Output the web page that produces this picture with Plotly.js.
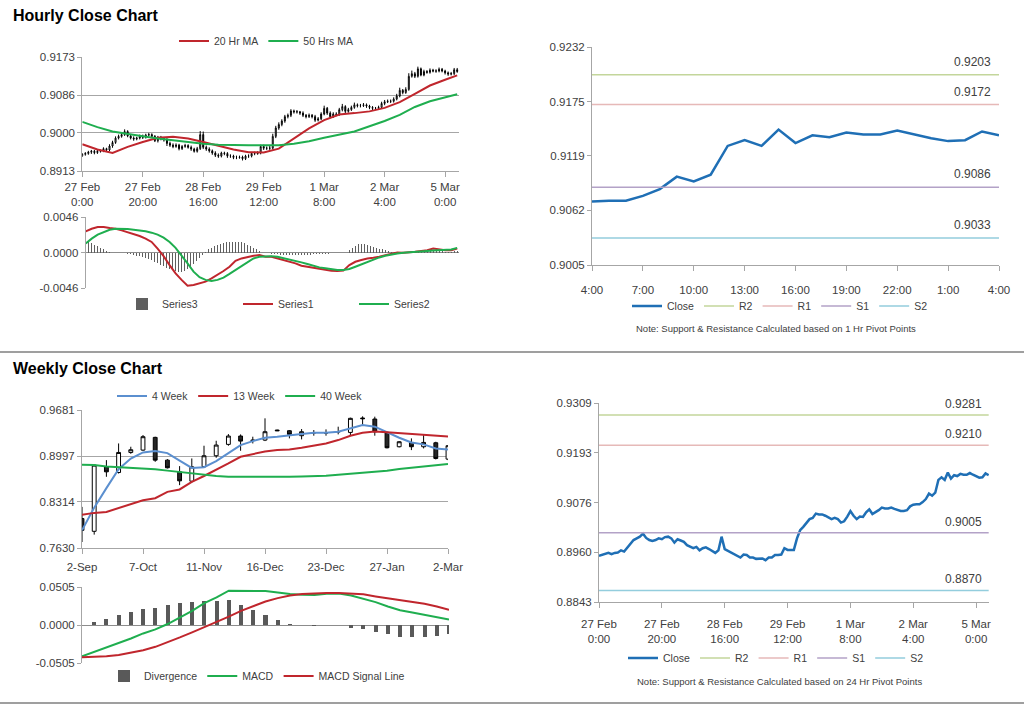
<!DOCTYPE html>
<html><head><meta charset="utf-8">
<script src="https://cdn.plot.ly/plotly-3.0.1.min.js"></script>
<style>html,body{margin:0;padding:0;background:#fff}#chart{width:1024px;height:706px}</style>
</head><body><div id="chart"></div>
<script>
// ---------- Hourly data (27 Feb 0:00 .. 5 Mar 4:00) ----------
const hourTickLabels = ['27 Feb<br>0:00','27 Feb<br>20:00','28 Feb<br>16:00','29 Feb<br>12:00','1 Mar<br>8:00','2 Mar<br>4:00','5 Mar<br>0:00'];
const hourTickIdx = [0,20,40,60,80,100,120];

const hOpen = [
0.8948,0.8951,0.8953,0.8956,0.8958,0.8955,0.8958,0.8959,0.8964,0.8961,
0.8970,0.8978,0.8988,0.8992,0.8996,0.9003,0.8993,0.8988,0.8986,0.8988,
0.8992,0.8990,0.8995,0.8996,0.8992,0.8982,0.8990,0.8987,0.8984,0.8976,
0.8972,0.8969,0.8972,0.8964,0.8969,0.8971,0.8967,0.8963,0.8958,0.8964,
0.8996,0.8967,0.8963,0.8959,0.8954,0.8949,0.8947,0.8954,0.8953,0.8947,
0.8947,0.8944,0.8944,0.8945,0.8941,0.8947,0.8947,0.8953,0.8953,0.8954,
0.8969,0.8965,0.8965,0.8965,0.8992,0.9011,0.9019,0.9027,0.9037,0.9040,
0.9050,0.9048,0.9048,0.9045,0.9040,0.9037,0.9040,0.9037,0.9029,0.9032,
0.9043,0.9056,0.9045,0.9037,0.9043,0.9042,0.9053,0.9060,0.9049,0.9053,
0.9058,0.9064,0.9062,0.9062,0.9064,0.9061,0.9058,0.9056,0.9056,0.9058,
0.9067,0.9071,0.9072,0.9072,0.9077,0.9084,0.9097,0.9092,0.9099,0.9129,
0.9135,0.9129,0.9146,0.9132,0.9140,0.9138,0.9143,0.9141,0.9141,0.9145,
0.9141,0.9137,0.9134,0.9135,0.9144];
const hHigh = [
0.8954,0.8956,0.8959,0.8961,0.8961,0.8961,0.8962,0.8967,0.8966,0.8974,
0.8982,0.8992,0.8996,0.9000,0.9008,0.9006,0.8997,0.8992,0.8991,0.8996,
0.8996,0.8998,0.9000,0.8999,0.8995,0.8993,0.8993,0.8990,0.8988,0.8980,
0.8976,0.8976,0.8975,0.8972,0.8975,0.8974,0.8971,0.8966,0.8968,0.9004,
0.9003,0.8971,0.8967,0.8962,0.8958,0.8953,0.8957,0.8957,0.8956,0.8951,
0.8950,0.8948,0.8948,0.8948,0.8950,0.8951,0.8956,0.8957,0.8958,0.8973,
0.8973,0.8969,0.8970,0.8998,0.9016,0.9024,0.9031,0.9041,0.9044,0.9054,
0.9053,0.9052,0.9050,0.9049,0.9043,0.9044,0.9043,0.9041,0.9036,0.9047,
0.9062,0.9059,0.9049,0.9047,0.9047,0.9057,0.9066,0.9063,0.9057,0.9062,
0.9069,0.9067,0.9066,0.9068,0.9067,0.9064,0.9061,0.9059,0.9062,0.9071,
0.9075,0.9076,0.9076,0.9081,0.9089,0.9103,0.9100,0.9104,0.9136,0.9142,
0.9139,0.9151,0.9149,0.9144,0.9143,0.9147,0.9146,0.9145,0.9149,0.9148,
0.9144,0.9140,0.9139,0.9148,0.9148];
const hLow = [
0.8945,0.8948,0.8950,0.8952,0.8951,0.8952,0.8955,0.8956,0.8957,0.8958,
0.8966,0.8975,0.8985,0.8989,0.8993,0.8990,0.8985,0.8982,0.8983,0.8985,
0.8986,0.8987,0.8992,0.8989,0.8979,0.8978,0.8983,0.8980,0.8970,0.8968,
0.8965,0.8966,0.8960,0.8961,0.8966,0.8964,0.8959,0.8955,0.8955,0.8961,
0.8963,0.8959,0.8955,0.8950,0.8945,0.8943,0.8944,0.8949,0.8943,0.8943,
0.8940,0.8940,0.8941,0.8937,0.8938,0.8943,0.8944,0.8949,0.8950,0.8951,
0.8961,0.8961,0.8961,0.8962,0.8988,0.9007,0.9015,0.9023,0.9033,0.9036,
0.9044,0.9044,0.9041,0.9036,0.9033,0.9034,0.9033,0.9025,0.9026,0.9029,
0.9040,0.9041,0.9033,0.9034,0.9038,0.9039,0.9049,0.9045,0.9046,0.9050,
0.9055,0.9058,0.9058,0.9059,0.9057,0.9054,0.9052,0.9052,0.9053,0.9055,
0.9063,0.9068,0.9068,0.9069,0.9074,0.9081,0.9088,0.9089,0.9096,0.9126,
0.9125,0.9126,0.9129,0.9129,0.9135,0.9135,0.9138,0.9137,0.9138,0.9138,
0.9133,0.9130,0.9131,0.9132,0.9137];
const hClose = [
0.8951,0.8953,0.8956,0.8958,0.8955,0.8958,0.8959,0.8964,0.8961,0.8970,
0.8978,0.8988,0.8992,0.8996,0.9003,0.8993,0.8988,0.8986,0.8988,0.8992,
0.8990,0.8995,0.8996,0.8992,0.8982,0.8990,0.8987,0.8984,0.8976,0.8972,
0.8969,0.8972,0.8964,0.8969,0.8971,0.8967,0.8963,0.8958,0.8964,0.8996,
0.8967,0.8963,0.8959,0.8954,0.8949,0.8947,0.8954,0.8953,0.8947,0.8947,
0.8944,0.8944,0.8945,0.8941,0.8947,0.8947,0.8953,0.8953,0.8954,0.8969,
0.8965,0.8965,0.8965,0.8992,0.9011,0.9019,0.9027,0.9037,0.9040,0.9050,
0.9048,0.9048,0.9045,0.9040,0.9037,0.9040,0.9037,0.9029,0.9032,0.9043,
0.9056,0.9045,0.9037,0.9043,0.9042,0.9053,0.9060,0.9049,0.9053,0.9058,
0.9064,0.9062,0.9062,0.9064,0.9061,0.9058,0.9056,0.9056,0.9058,0.9067,
0.9071,0.9072,0.9072,0.9077,0.9084,0.9097,0.9092,0.9099,0.9129,0.9135,
0.9129,0.9146,0.9132,0.9140,0.9138,0.9143,0.9141,0.9141,0.9145,0.9141,
0.9137,0.9134,0.9135,0.9144,0.9140];

// moving averages read every 5 hours
const maIdx = [0,5,10,15,20,25,30,35,40,45,50,55,60,65,70,75,80,85,90,95,100,105,110,115,120,124];
const ma20 = [0.8974,0.8962,0.8954,0.8968,0.8979,0.8989,0.8991,0.8987,0.8979,0.8970,0.8962,0.8956,0.8955,0.8964,0.8987,0.9010,0.9029,0.9042,0.9045,0.9049,0.9057,0.9070,0.9089,0.9108,0.9121,0.9131];
const ma50 = [0.9025,0.9013,0.9003,0.8997,0.8992,0.8987,0.8983,0.8979,0.8975,0.8973,0.8972,0.8972,0.8972,0.8972,0.8975,0.8981,0.8989,0.8996,0.9003,0.9015,0.9027,0.9041,0.9059,0.9072,0.9080,0.9088];

// hourly MACD (lines read every 2 hours, histogram every hour)
const series1 = [0.00274,0.00308,0.00330,0.00330,0.00317,0.00308,0.00287,0.00265,0.00244,0.00214,
0.00180,0.00137,0.00051,-0.00047,-0.00163,-0.00270,-0.00355,-0.00430,-0.00420,-0.00398,
-0.00377,-0.00334,-0.00291,-0.00240,-0.00184,-0.00107,-0.00077,-0.00056,-0.00043,-0.00034,
-0.00056,-0.00056,-0.00077,-0.00098,-0.00120,-0.00141,-0.00171,-0.00184,-0.00205,-0.00214,
-0.00227,-0.00235,-0.00240,-0.00235,-0.00163,-0.00120,-0.00098,-0.00077,-0.00068,-0.00056,
-0.00034,-0.00013,0.00000,-0.00004,0.00000,0.00009,0.00021,0.00030,0.00051,0.00039,
0.00030,0.00030,0.00051];
const series2 = [0.00116,0.00180,0.00231,0.00265,0.00295,0.00308,0.00308,0.00304,0.00295,0.00287,
0.00274,0.00257,0.00231,0.00193,0.00137,0.00060,-0.00034,-0.00141,-0.00248,-0.00321,
-0.00355,-0.00368,-0.00355,-0.00325,-0.00278,-0.00227,-0.00171,-0.00120,-0.00077,-0.00056,
-0.00047,-0.00047,-0.00056,-0.00073,-0.00086,-0.00107,-0.00128,-0.00150,-0.00175,-0.00193,
-0.00205,-0.00218,-0.00227,-0.00227,-0.00214,-0.00184,-0.00154,-0.00120,-0.00090,-0.00064,
-0.00043,-0.00026,-0.00013,-0.00004,0.00004,0.00009,0.00017,0.00021,0.00026,0.00030,
0.00030,0.00039,0.00060];
const series3 = [
0.0017,0.0014,0.0012,0.0010,0.0008,0.0006,0.0004,0.0002,0.0001,0.0000,
0.0000,-0.0001,-0.0001,-0.0001,-0.0002,-0.0002,-0.0003,-0.0004,-0.0005,-0.0006,
-0.0007,-0.0008,-0.0010,-0.0012,-0.0014,-0.0016,-0.0018,-0.0020,-0.0021,-0.0022,
-0.0024,-0.0025,-0.0025,-0.0024,-0.0022,-0.0019,-0.0015,-0.0011,-0.0007,-0.0003,
0.0001,0.0004,0.0006,0.0008,0.0010,0.0011,0.0012,0.0013,0.0013,0.0014,
0.0014,0.0013,0.0013,0.0012,0.0010,0.0008,0.0006,0.0004,0.0002,0.0000,
-0.0001,-0.0001,-0.0002,-0.0002,-0.0002,-0.0003,-0.0003,-0.0003,-0.0003,-0.0003,
-0.0003,-0.0003,-0.0003,-0.0003,-0.0003,-0.0003,-0.0002,-0.0002,-0.0002,-0.0002,
-0.0002,-0.0002,-0.0001,-0.0001,-0.0001,-0.0001,-0.0001,0.0000,0.0003,0.0006,
0.0009,0.0011,0.0011,0.0011,0.0010,0.0008,0.0007,0.0006,0.0005,0.0004,
0.0003,0.0002,0.0001,0.0001,0.0001,0.0001,0.0001,0.0001,0.0001,0.0001,
0.0001,0.0002,0.0002,0.0002,0.0002,0.0002,0.0003,0.0002,0.0002,0.0002,
0.0001,0.0001,0.0001,0.0002,0.0002];

// last 25 hours chart
const lastDayLabels = ['4:00','7:00','10:00','13:00','16:00','19:00','22:00','1:00','4:00'];
const pivotNames = ['R2','R1','S1','S2'];
const pivotColors = ['#c3d69b','#e6b9b8','#b3a2c7','#93cddd'];
const hourPivots = [0.9203,0.9172,0.9086,0.9033];
const dayPivots = [0.9281,0.9210,0.9005,0.8870];

// ---------- Weekly data ----------
const weekTickLabels = ['2-Sep','7-Oct','11-Nov','16-Dec','23-Dec','27-Jan','2-Mar'];
const weekTickIdx = [0,5,10,15,20,25,30];
const wOpen = [0.8067,0.7878,0.8837,0.8752,0.9050,0.9085,0.9274,0.8936,0.8762,0.8623,0.8837,0.9001,0.9170,0.9294,0.9234,0.9234,0.9383,0.9373,0.9299,0.9343,0.9345,0.9355,0.9348,0.9562,0.9547,0.9348,0.9135,0.9199,0.9135,0.9194,0.8951];
const wHigh = [0.8241,0.8872,0.8936,0.9184,0.9135,0.9309,0.9284,0.8951,0.8847,0.8961,0.9150,0.9224,0.9323,0.9318,0.9284,0.9557,0.9388,0.9383,0.9398,0.9383,0.9393,0.9433,0.9567,0.9587,0.9582,0.9358,0.9219,0.9259,0.9309,0.9209,0.9160];
const wLow = [0.7719,0.7829,0.8688,0.8737,0.9030,0.9075,0.8911,0.8812,0.8564,0.8603,0.8822,0.8971,0.9150,0.9075,0.9184,0.9219,0.9368,0.9259,0.9244,0.9299,0.9299,0.9319,0.9309,0.9453,0.9299,0.9110,0.9125,0.9085,0.9110,0.8946,0.8936];
const wClose = [0.7893,0.8862,0.8762,0.9050,0.9090,0.9284,0.8936,0.8822,0.8628,0.8837,0.9001,0.9160,0.9294,0.9219,0.9229,0.9358,0.9373,0.9319,0.9358,0.9343,0.9340,0.9360,0.9557,0.9552,0.9358,0.9120,0.9209,0.9135,0.9199,0.8961,0.9150];
const week4 = [0.7893,0.8230,0.8520,0.8800,0.8960,0.9050,0.9070,0.9040,0.8930,0.8820,0.8830,0.8920,0.9040,0.9160,0.9219,0.9269,0.9284,0.9299,0.9323,0.9343,0.9343,0.9358,0.9408,0.9457,0.9433,0.9348,0.9269,0.9199,0.9170,0.9110,0.9095];
const week13 = [0.8125,0.8152,0.8166,0.8226,0.8281,0.8340,0.8370,0.8464,0.8500,0.8613,0.8700,0.8787,0.8886,0.8986,0.9025,0.9065,0.9085,0.9095,0.9120,0.9150,0.9184,0.9234,0.9299,0.9343,0.9360,0.9350,0.9338,0.9328,0.9318,0.9304,0.9289];
const week40 = [0.8868,0.8862,0.8840,0.8830,0.8825,0.8818,0.8800,0.8780,0.8760,0.8735,0.8713,0.8700,0.8690,0.8688,0.8688,0.8688,0.8688,0.8690,0.8693,0.8697,0.8703,0.8718,0.8733,0.8750,0.8765,0.8777,0.8805,0.8825,0.8842,0.8862,0.8880];
const wDiv = [0,0.0045,0.0085,0.0130,0.0174,0.0215,0.0232,0.0260,0.0290,0.0304,0.0317,0.0322,0.0335,0.0264,0.0201,0.0130,0.0072,0.0013,0.0002,-0.0010,-0.0003,-0.0002,-0.0035,-0.0054,-0.0098,-0.0125,-0.0156,-0.0156,-0.0156,-0.0143,-0.0125];
const wMacd = [-0.0416,-0.0358,-0.0300,-0.0237,-0.0179,-0.0112,-0.0058,0.0013,0.0098,0.0188,0.0290,0.0366,0.0456,0.0456,0.0456,0.0451,0.0433,0.0411,0.0402,0.0398,0.0416,0.0420,0.0393,0.0353,0.0304,0.0246,0.0197,0.0165,0.0134,0.0103,0.0072];
const wSignal = [-0.0429,-0.0425,-0.0416,-0.0398,-0.0367,-0.0335,-0.0290,-0.0232,-0.0165,-0.0098,-0.0031,0.0036,0.0112,0.0188,0.0255,0.0313,0.0357,0.0393,0.0411,0.0420,0.0425,0.0425,0.0416,0.0407,0.0380,0.0357,0.0335,0.0308,0.0282,0.0246,0.0201];

// ---------- build ----------
const W = 1024, H = 706;
const px = x => x / W, py = y => 1 - y / H;
const FONT = 'Liberation Sans, Arial, sans-serif';
const TXT = '#404040';
const RED = '#c0262d', GREEN = '#1fae4f', BLUE = '#1f6fb5', LBLUE = '#5b8fcf', GREY = '#595959';
const AX = '#a6a6a6';

const hIdx = hClose.map((_, i) => i);
const macdIdx = series1.map((_, k) => 2 * k);
const lastDay = hClose.slice(hClose.length - 25);
const ldIdx = lastDay.map((_, i) => i);
const wIdx = wClose.map((_, i) => i);

const traces = [];
// A: hourly candles
traces.push({type:'candlestick', x:hIdx, open:hOpen, high:hHigh, low:hLow, close:hClose, xaxis:'x', yaxis:'y',
  increasing:{line:{color:'#000',width:1}, fillcolor:'#ffffff'}, decreasing:{line:{color:'#000',width:1}, fillcolor:'#000000'},
  whiskerwidth:0, showlegend:false, hoverinfo:'skip'});
traces.push({type:'scatter', mode:'lines', x:maIdx, y:ma20, name:'20 Hr MA', line:{color:RED,width:2}, xaxis:'x', yaxis:'y', legend:'legend'});
traces.push({type:'scatter', mode:'lines', x:maIdx, y:ma50, name:'50 Hrs MA', line:{color:GREEN,width:2}, xaxis:'x', yaxis:'y', legend:'legend'});
// B: hourly MACD
traces.push({type:'bar', x:hIdx, y:series3, name:'Series3', marker:{color:'#5f5f5f'}, width:0.35, xaxis:'x2', yaxis:'y2', legend:'legend2'});
traces.push({type:'scatter', mode:'lines', x:macdIdx, y:series1, name:'Series1', line:{color:RED,width:2}, xaxis:'x2', yaxis:'y2', legend:'legend2'});
traces.push({type:'scatter', mode:'lines', x:macdIdx, y:series2, name:'Series2', line:{color:GREEN,width:2}, xaxis:'x2', yaxis:'y2', legend:'legend2'});
// C: last day close
traces.push({type:'scatter', mode:'lines', x:ldIdx, y:lastDay, name:'Close', line:{color:BLUE,width:2.5}, xaxis:'x3', yaxis:'y3', legend:'legend3'});
pivotNames.forEach((n, k) => traces.push({type:'scatter', mode:'lines', x:[0, ldIdx.length-1], y:[hourPivots[k], hourPivots[k]], name:n, line:{color:pivotColors[k],width:1.5}, xaxis:'x3', yaxis:'y3', legend:'legend3'}));
// D: weekly candles
traces.push({type:'candlestick', x:wIdx, open:wOpen, high:wHigh, low:wLow, close:wClose, xaxis:'x4', yaxis:'y4',
  increasing:{line:{color:'#000',width:1}, fillcolor:'#ffffff'}, decreasing:{line:{color:'#000',width:1}, fillcolor:'#262626'},
  whiskerwidth:0, showlegend:false, hoverinfo:'skip'});
traces.push({type:'scatter', mode:'lines', x:wIdx, y:week4, name:'4 Week', line:{color:LBLUE,width:2}, xaxis:'x4', yaxis:'y4', legend:'legend4'});
traces.push({type:'scatter', mode:'lines', x:wIdx, y:week13, name:'13 Week', line:{color:RED,width:2}, xaxis:'x4', yaxis:'y4', legend:'legend4'});
traces.push({type:'scatter', mode:'lines', x:wIdx, y:week40, name:'40 Week', line:{color:GREEN,width:2}, xaxis:'x4', yaxis:'y4', legend:'legend4'});
// E: weekly MACD
traces.push({type:'bar', x:wIdx, y:wDiv, name:'Divergence', marker:{color:GREY}, width:0.33, xaxis:'x5', yaxis:'y5', legend:'legend5'});
traces.push({type:'scatter', mode:'lines', x:wIdx, y:wMacd, name:'MACD', line:{color:GREEN,width:2}, xaxis:'x5', yaxis:'y5', legend:'legend5'});
traces.push({type:'scatter', mode:'lines', x:wIdx, y:wSignal, name:'MACD Signal Line', line:{color:RED,width:2}, xaxis:'x5', yaxis:'y5', legend:'legend5'});
// F: hourly close with daily pivots
traces.push({type:'scatter', mode:'lines', x:hIdx, y:hClose, name:'Close', line:{color:BLUE,width:2.5}, xaxis:'x6', yaxis:'y6', legend:'legend6'});
pivotNames.forEach((n, k) => traces.push({type:'scatter', mode:'lines', x:[0, hIdx.length-1], y:[dayPivots[k], dayPivots[k]], name:n, line:{color:pivotColors[k],width:1.5}, xaxis:'x6', yaxis:'y6', legend:'legend6'}));

const tickFont = {family:FONT, size:11.5, color:TXT};
function yAxis(dom, vals, texts, grid, anchor){
  return {domain:dom, range:[vals[0], vals[vals.length-1]], tickmode:'array', tickvals:vals, ticktext:texts,
    showgrid:grid, gridcolor:AX, gridwidth:1, zeroline:false, showline:true, linecolor:AX, linewidth:1,
    ticks:'outside', ticklen:4, tickcolor:AX, tickfont:tickFont, anchor:anchor, fixedrange:true};
}
function xAxis(dom, range, vals, texts, anchor, extra){
  return Object.assign({domain:dom, range:range, tickmode:'array', tickvals:vals, ticktext:texts,
    showgrid:false, zeroline:false, showline:true, linecolor:AX, linewidth:1, ticks:'outside', ticklen:5, tickcolor:AX,
    tickfont:tickFont, anchor:anchor, rangeslider:{visible:false}, fixedrange:true}, extra||{});
}
const fmt4 = v => v.toFixed(4);
const hY = [0.8913,0.9000,0.9086,0.9173];
const hmY = [-0.0046,0,0.0046];
const ldY = [0.9005,0.9062,0.9119,0.9175,0.9232];
const wY = [0.7630,0.8314,0.8997,0.9681];
const wmY = [-0.0505,0,0.0505];
const fY = [0.8843,0.8960,0.9076,0.9193,0.9309];

const legFont = {family:FONT, size:10.5, color:TXT};
function leg(x, y, extra){ return Object.assign({x:px(x), y:py(y), xanchor:'center', yanchor:'middle', orientation:'h', font:legFont, bgcolor:'rgba(0,0,0,0)', itemwidth:30, tracegroupgap:0}, extra||{}); }

const annotations = [
  {xref:'paper', yref:'paper', x:px(11), y:py(16), xanchor:'left', yanchor:'middle', text:'<b>Hourly Close Chart</b>', showarrow:false, font:{family:FONT, size:16, color:'#000'}},
  {xref:'paper', yref:'paper', x:px(11), y:py(369), xanchor:'left', yanchor:'middle', text:'<b>Weekly Close Chart</b>', showarrow:false, font:{family:FONT, size:16, color:'#000'}},
  {xref:'paper', yref:'paper', x:px(776), y:py(328), xanchor:'center', yanchor:'middle', text:'Note: Support &amp; Resistance Calculated based on 1 Hr Pivot Points', showarrow:false, font:{family:FONT, size:9.5, color:TXT}},
  {xref:'paper', yref:'paper', x:px(779), y:py(681), xanchor:'center', yanchor:'middle', text:'Note: Support &amp; Resistance Calculated based on 24 Hr Pivot Points', showarrow:false, font:{family:FONT, size:9.5, color:TXT}}
];
hourPivots.forEach(v => annotations.push({xref:'x3', yref:'y3', x:ldIdx.length-1, y:v, xanchor:'right', yanchor:'bottom', xshift:-6, yshift:4, text:fmt4(v), showarrow:false, font:{family:FONT, size:12, color:TXT}}));
dayPivots.forEach(v => annotations.push({xref:'x6', yref:'y6', x:hIdx.length-1, y:v, xanchor:'right', yanchor:'bottom', xshift:-5, yshift:2, text:fmt4(v), showarrow:false, font:{family:FONT, size:12, color:TXT}}));

const layout = {
  width:W, height:H, margin:{l:0,r:0,t:0,b:0}, paper_bgcolor:'#fff', plot_bgcolor:'#fff',
  hovermode:false, dragmode:false, showlegend:true, boxgap:0.55, bargap:0,
  xaxis: xAxis([px(82.3), px(459)], [0, 124.6], hourTickIdx, hourTickLabels, 'y'),
  yaxis: yAxis([py(171), py(57)], hY, hY.map(fmt4), true, 'x'),
  xaxis2: xAxis([px(85.7), px(459)], [0, 124.6], [], [], 'y2', {showline:false, ticks:'', showticklabels:false}),
  yaxis2: Object.assign(yAxis([py(288), py(217)], hmY, hmY.map(fmt4), true, 'x2'), {zeroline:true, zerolinecolor:'#8c8c8c', zerolinewidth:1}),
  xaxis3: xAxis([px(592), px(999)], [0, 24], [0,3,6,9,12,15,18,21,24], lastDayLabels, 'y3', {ticklabelstandoff:9}),
  yaxis3: yAxis([py(265), py(47)], ldY, ldY.map(fmt4), false, 'x3'),
  xaxis4: xAxis([px(82), px(448)], [0, 30], weekTickIdx, weekTickLabels, 'y4', {ticklabelstandoff:3}),
  yaxis4: yAxis([py(548), py(410)], wY, wY.map(fmt4), true, 'x4'),
  xaxis5: xAxis([px(82), px(449)], [0, 30], [], [], 'y5', {showline:false, ticks:'', showticklabels:false}),
  yaxis5: Object.assign(yAxis([py(663), py(587)], wmY, wmY.map(fmt4), true, 'x5'), {zeroline:true, zerolinecolor:'#8c8c8c', zerolinewidth:1}),
  xaxis6: xAxis([px(599), px(989)], [0, 124.1], hourTickIdx, hourTickLabels, 'y6', {ticklabelstandoff:6}),
  yaxis6: yAxis([py(602), py(403)], fY, fY.map(fmt4), false, 'x6'),
  legend: leg(266, 41), legend2: leg(296, 304, {entrywidth:71}), legend3: leg(780, 306),
  legend4: leg(240, 396), legend5: leg(257, 676), legend6: leg(776, 658),
  annotations: annotations,
  shapes: [
    {type:'line', xref:'paper', yref:'paper', x0:0, x1:1, y0:py(352), y1:py(352), line:{color:'#7f7f7f', width:1.5}},
    {type:'line', xref:'paper', yref:'paper', x0:0, x1:1, y0:py(703), y1:py(703), line:{color:'#7f7f7f', width:1.5}}
  ]
};
Plotly.newPlot('chart', traces, layout, {staticPlot:true, displayModeBar:false});
</script></body></html>
